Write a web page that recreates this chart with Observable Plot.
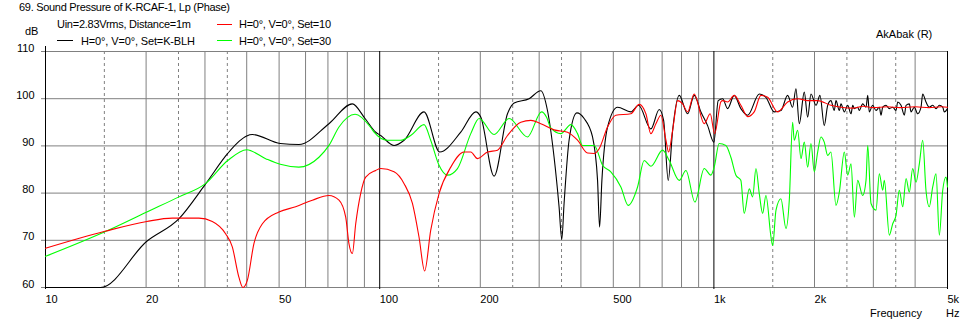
<!DOCTYPE html>
<html><head><meta charset="utf-8">
<script src="https://cdn.jsdelivr.net/npm/d3@7"></script>
<script src="https://cdn.jsdelivr.net/npm/@observablehq/plot@0.6"></script>
<style>
body{margin:0;background:#fff;}
#wrap{position:relative;width:974px;height:324px;font-family:"Liberation Sans",Arial,sans-serif;font-size:11px;}
#wrap svg{position:absolute;left:0;top:0;}
#overlay{pointer-events:none;}
#overlay text{font-family:"Liberation Sans",Arial,sans-serif;font-size:11px;fill:#000;}
</style></head><body><div id="wrap"></div>
<script>
// ---- data ----
const title = "69. Sound Pressure of K-RCAF-1, Lp (Phase)";
const condition = "Uin=2.83Vrms, Distance=1m";
const seriesNames = ["H=0°, V=0°, Set=K-BLH", "H=0°, V=0°, Set=10", "H=0°, V=0°, Set=30"];
const seriesColors = ["#000000", "#ff0000", "#00ff00"];

const blackFreq = [10, 14.6, 20.1, 25.1, 30.1, 35.1, 38, 40, 41.6, 50.4, 57.3, 70.5, 82.8, 90.4, 97.3, 100.7, 110.4, 118.3, 135.7, 151.2, 174.8, 193.9, 200.6, 219.9, 241.2, 252.5, 279.9, 303.4, 317.7, 332.5, 344.1, 350.6, 356.2, 368.7, 388.9, 409, 433.4, 448.6, 454.9, 462.2, 480.6, 515, 564.3, 595.1, 647.8, 686.1, 707.2, 730, 752.5, 787.5, 834.4, 873.1, 914.5, 957.5, 1000, 1030, 1062, 1099, 1150, 1204, 1262, 1367, 1431, 1515, 1587, 1662, 1720, 1760, 1801, 1864, 1908, 1952, 2021, 2077, 2139, 2190, 2240, 2292, 2319, 2373, 2400, 2456, 2514, 2572, 2603, 2632, 2693, 2723, 2787, 2852, 2886, 2917, 2986, 3055, 3126, 3162, 3200, 3273, 3349, 3428, 3507, 3548, 3630, 3714, 3758, 3843, 3889, 3978, 4072, 4166, 4215, 4311, 4410, 4516, 4620, 4727, 4838, 4892, 5000];
const blackDb = [60, 60, 69.8, 74.6, 81.9, 88.4, 91.0, 92.1, 92.4, 90.5, 90.3, 94.7, 98.9, 95.8, 92.9, 92.2, 90.1, 91.2, 97.2, 88.7, 92.9, 97.2, 96.1, 83.6, 96.8, 99.1, 100.0, 101.7, 97.5, 87.6, 77.1, 70.2, 77.8, 91.2, 97.0, 95.8, 91.9, 82.7, 72.8, 82.7, 94.0, 98.2, 97.2, 98.6, 93.6, 97.7, 95.4, 82.7, 93.3, 100.7, 96.8, 100.7, 97.2, 94.3, 90.8, 99.6, 100.0, 97.9, 100.7, 97.9, 96.5, 101.0, 100.3, 97.2, 97.5, 100.7, 98.2, 102.1, 94.7, 101.4, 96.1, 101.0, 98.6, 100.7, 94.3, 98.6, 99.6, 97.5, 99.6, 97.5, 98.9, 97.2, 98.6, 96.8, 98.6, 97.9, 98.2, 97.5, 98.9, 98.2, 100.7, 97.2, 98.6, 97.5, 98.2, 96.5, 98.2, 98.6, 97.9, 98.2, 97.5, 99.3, 98.6, 96.5, 98.6, 98.9, 97.2, 98.2, 96.8, 98.2, 101.0, 99.3, 98.2, 98.6, 97.9, 98.6, 98.2, 97.2, 97.9];

const redFreq = [10, 15.05, 20.1, 23.95, 28.77, 31.56, 34.58, 36.22, 37.9, 38.97, 40.17, 42.04, 44.56, 49.94, 56.04, 62.87, 70.5, 75.54, 79.12, 80.9, 82.83, 84.77, 87.7, 90.8, 97.3, 100.7, 110.4, 118.3, 125.3, 131.1, 136.3, 142.1, 150.5, 163.2, 178.9, 187.3, 196.2, 210.2, 225.2, 241.2, 264.4, 283.3, 303.4, 332.5, 364.7, 390.8, 418.8, 438.2, 453.6, 480.6, 508.8, 564.3, 597.5, 625.8, 647.8, 670.6, 694.1, 718.6, 731.9, 752.5, 778.8, 806.2, 834.4, 873.1, 935.5, 974.8, 1005, 1050, 1062, 1099, 1150, 1204, 1262, 1320, 1383, 1448, 1551, 1662, 1781, 1908, 2044, 2240, 2400, 2600, 2800, 3000, 3300, 3600, 4000, 4400, 4800, 5000];
const redDb = [68.3, 71.9, 74.0, 74.7, 74.7, 74.0, 71.4, 68.6, 62.2, 60.0, 61.5, 69.3, 73.5, 76.0, 77.1, 78.5, 79.5, 78.5, 74.9, 69.3, 67.2, 73.5, 79.9, 83.4, 84.8, 85.2, 84.5, 82.0, 77.8, 70.7, 63.5, 72.1, 79.9, 85.5, 88.7, 88.7, 87.3, 88.7, 89.1, 92.2, 95.0, 95.4, 94.7, 93.4, 92.9, 91.2, 88.5, 88.4, 89.4, 94.0, 96.5, 96.8, 98.8, 96.8, 92.6, 94.7, 96.5, 91.2, 88.7, 93.3, 99.6, 98.9, 97.2, 101.0, 94.7, 96.8, 92.6, 99.4, 99.6, 99.3, 100.7, 98.6, 96.2, 97.2, 100.7, 100.3, 97.2, 99.3, 100.0, 99.6, 99.6, 98.6, 98.2, 98.0, 98.4, 98.1, 98.3, 98.1, 98.3, 98.1, 98.3, 98.2];

const greenFreq = [10, 15.05, 20.1, 25.1, 30.1, 35.1, 40, 45.58, 50.4, 57.3, 65.81, 70.5, 75.54, 84.4, 94.0, 96.2, 105.4, 115.6, 123.8, 135.7, 142.1, 150.5, 159.5, 170.9, 187.3, 198.4, 219.9, 243.9, 276.8, 305, 316, 325, 348.3, 373.2, 390.8, 404.5, 438.2, 464.4, 491.6, 526.8, 553.9, 591.0, 618.5, 647.8, 702.3, 735.1, 787.5, 824.7, 877.4, 935.5, 979.5, 1002, 1037, 1086, 1124, 1164, 1204, 1232, 1276, 1306, 1336, 1367, 1399, 1431, 1482, 1499, 1534, 1587, 1643, 1681, 1720, 1739, 1781, 1822, 1864, 1908, 1952, 1997, 2044, 2091, 2139, 2190, 2240, 2319, 2373, 2456, 2514, 2572, 2632, 2693, 2787, 2852, 2886, 2952, 3055, 3126, 3200, 3236, 3349, 3428, 3507, 3587, 3673, 3758, 3843, 3934, 4025, 4118, 4215, 4311, 4410, 4516, 4620, 4727, 4838, 4950, 5000];
const greenDb = [66.6, 71.8, 76.0, 79.2, 82.0, 86.9, 89.2, 87.3, 86.1, 85.5, 87.6, 90.1, 94.0, 96.7, 93.9, 92.9, 91.2, 91.2, 92.2, 94.5, 91.2, 85.9, 83.8, 85.2, 92.6, 95.8, 92.4, 95.8, 91.9, 97.2, 96.0, 93.8, 92.6, 94.5, 92.6, 90.1, 90.1, 85.9, 84.5, 81.3, 77.4, 81.3, 86.9, 85.7, 89.1, 86.9, 82.7, 84.8, 78.1, 85.2, 83.8, 85.5, 90.5, 90.1, 87.6, 83.8, 82.7, 75.7, 80.9, 79.2, 85.2, 79.9, 75.7, 79.5, 70.7, 68.9, 76.4, 78.8, 72.5, 78.5, 95.0, 91.2, 93.3, 87.3, 90.8, 85.5, 90.5, 84.5, 88.7, 91.9, 90.8, 88.0, 88.7, 77.4, 80.2, 88.7, 83.8, 86.2, 74.9, 82.7, 79.5, 82.7, 90.1, 77.8, 76.4, 84.1, 80.6, 82.7, 71.1, 73.5, 75.3, 80.6, 77.1, 83.1, 80.2, 85.2, 82.3, 86.2, 91.2, 80.6, 77.1, 81.3, 84.1, 71.1, 80.6, 83.4, 81.3];

const yTicks = [60, 70, 80, 90, 100, 110];
const xLabelValues = [10, 20, 50, 100, 200, 500, 1000, 2000, 5000];
const xLabelText = ["10", "20", "50", "100", "200", "500", "1k", "2k", "5k"];
const solidGrid = [20, 30, 40, 50, 60, 70, 80, 90, 200, 300, 400, 500, 600, 700, 800, 900, 2000, 3000, 4000];
const dashedGrid = [15, 25, 35, 150, 250, 350, 1500, 2500, 3500];
const decadeGrid = [100, 1000, 5000];
const axisFreq = [10];

// ---- build ----
const rows = (F, D) => F.slice(0, Math.min(F.length, D.length)).map((f, i) => ({f, db: D[i]}));
const blackRows = rows(blackFreq, blackDb);
const redRows = rows(redFreq, redDb);
const greenRows = rows(greenFreq, greenDb);
const FONT = '"Liberation Sans", Arial, sans-serif';

const chart = Plot.plot({
  width: 974, height: 324,
  marginLeft: 45, marginRight: 27, marginTop: 51, marginBottom: 37,
  style: {fontFamily: FONT, fontSize: "11px", background: "#fff", color: "#000"},
  x: {type: "log", domain: [10, 5000], axis: null},
  y: {domain: [60, 110], axis: null},
  marks: [
    Plot.ruleY(yTicks, {stroke: "#808080", insetLeft: -4}),
    Plot.ruleX(solidGrid, {stroke: "#808080", insetBottom: -1}),
    Plot.ruleX(dashedGrid, {stroke: "#808080", strokeDasharray: "3,3"}),
    Plot.ruleX(decadeGrid, {stroke: "#000", insetBottom: -2}),
    Plot.ruleX(axisFreq, {stroke: "#000", insetBottom: -2, insetTop: -5}),
    Plot.line(blackRows, {x: "f", y: "db", stroke: seriesColors[0], strokeWidth: 1.1, curve: "monotone-x"}),
    Plot.line(greenRows, {x: "f", y: "db", stroke: seriesColors[2], strokeWidth: 1.1, curve: "monotone-x"}),
    Plot.line(redRows, {x: "f", y: "db", stroke: seriesColors[1], strokeWidth: 1.1, curve: "monotone-x"}),
    Plot.text(yTicks, {frameAnchor: "left", y: d => d, text: d => String(d), textAnchor: "end", lineAnchor: "bottom", dx: -11, dy: 0, fontSize: 11, fontFamily: FONT, fill: "#000"}),
    Plot.text(xLabelValues, {frameAnchor: "bottom", x: d => d, text: (d, i) => xLabelText[i], textAnchor: "start", lineAnchor: "bottom", dy: 15, fontSize: 11, fontFamily: FONT, fill: "#000"})
  ]
});
const wrap = document.getElementById("wrap");
wrap.appendChild(chart);

// overlay: title, legend, axis names
const ns = "http://www.w3.org/2000/svg";
const ov = document.createElementNS(ns, "svg");
ov.setAttribute("id", "overlay");
ov.setAttribute("width", 974);
ov.setAttribute("height", 324);
function addText(x, y, s, len) {
  const t = document.createElementNS(ns, "text");
  t.setAttribute("x", x); t.setAttribute("y", y); t.textContent = s;
  if (len) { t.setAttribute("textLength", len); t.setAttribute("lengthAdjust", "spacing"); }
  ov.appendChild(t);
}
function addLine(x1, x2, y, c) {
  const l = document.createElementNS(ns, "line");
  l.setAttribute("x1", x1); l.setAttribute("x2", x2); l.setAttribute("y1", y); l.setAttribute("y2", y);
  l.setAttribute("stroke", c); l.setAttribute("stroke-width", 1); ov.appendChild(l);
}
addText(19, 11, title, 211);
addText(57, 28, condition, 134);
const legendPos = [[57, 73, 40.5, 81, 44.5, 114], [217, 232, 24.5, 239, 28, 92], [217, 232, 40.5, 239, 44.5, 92]];
seriesNames.forEach((n, i) => {
  const p = legendPos[i];
  addLine(p[0], p[1], p[2], seriesColors[i]);
  addText(p[3], p[4], n, p[5]);
});
addText(25, 34.5, "dB");
addText(876, 37.5, "AkAbak (R)");
addText(870, 316.5, "Frequency");
addText(946, 316.5, "Hz");
wrap.appendChild(ov);
</script></body></html>
